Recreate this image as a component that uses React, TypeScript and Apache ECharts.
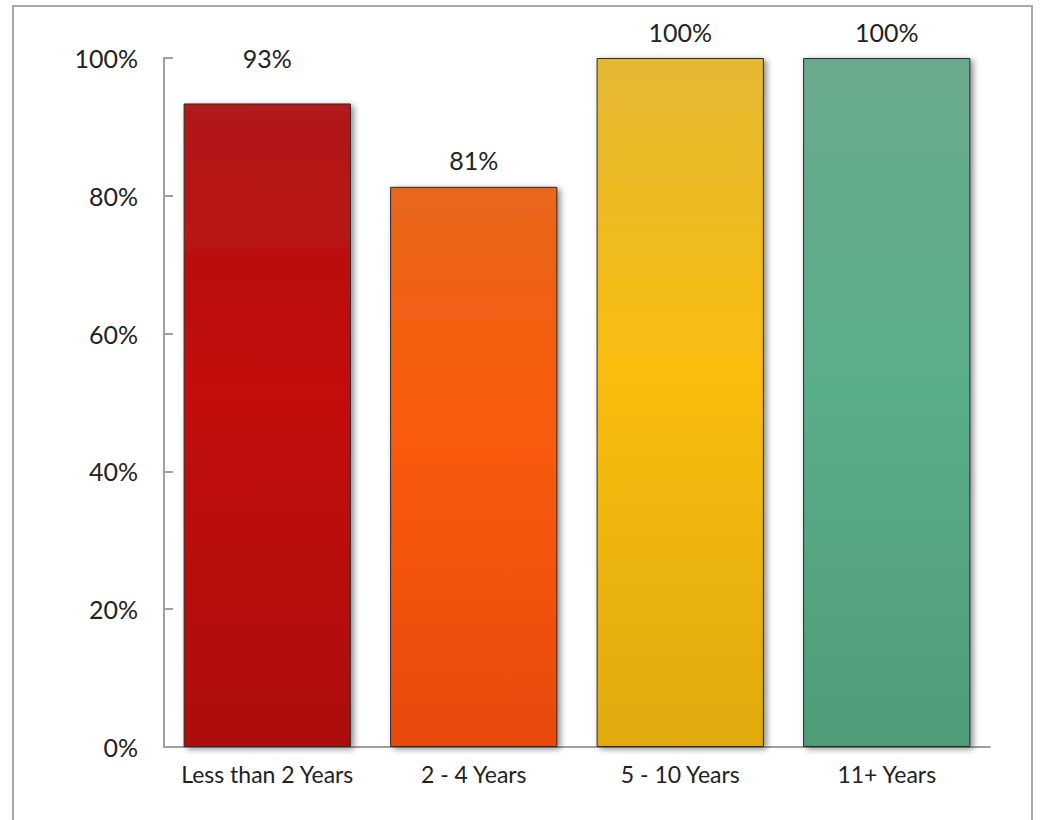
import React, { useEffect, useRef } from "react";
import * as echarts from "echarts";

const categories = ["Less than 2 Years", "2 - 4 Years", "5 - 10 Years", "11+ Years"];
const values = [93.4, 81.3, 100, 100];
const yTicks = [0, 20, 40, 60, 80, 100];
const barColors = [
  ["#b01a1a", "#c40909", "#ad0707"],
  ["#e8661c", "#fa5a08", "#e84a08"],
  ["#e5b832", "#f8bd10", "#e0aa08"],
  ["#6aaa8c", "#5aae8a", "#4e9c78"],
];
const labelDistances = [33, 14, 14, 14];

export default function App() {
  const ref = useRef<HTMLDivElement>(null);
  useEffect(() => {
    if (!ref.current) return;
    const chart = echarts.init(ref.current, null, { renderer: "svg" });
    const font = "Lato, 'DejaVu Sans', sans-serif";
    chart.setOption({
      animation: false,
      backgroundColor: "#ffffff",
      graphic: [
        {
          type: "rect",
          shape: { x: 13, y: 6, width: 1019, height: 840 },
          style: { fill: "none", stroke: "#a8a8a8", lineWidth: 2 },
          silent: true,
        },
      ],
      grid: { left: 164, right: 51, top: 58, bottom: 73, containLabel: false },
      xAxis: {
        type: "category",
        data: categories,
        axisLine: { show: true, lineStyle: { color: "#a0a0a0", width: 2 } },
        axisTick: { show: false },
        axisLabel: { color: "#222", fontFamily: font, fontSize: 23, margin: 15, interval: 0, hideOverlap: false },
      },
      yAxis: {
        type: "value",
        min: yTicks[0],
        max: yTicks[yTicks.length - 1],
        interval: 20,
        splitLine: { show: false },
        axisLine: { show: true, lineStyle: { color: "#a0a0a0", width: 2 } },
        axisTick: { show: true, inside: true, length: 9, lineStyle: { color: "#a0a0a0", width: 2 } },
        axisLabel: {
          color: "#222",
          fontFamily: font,
          fontSize: 25,
          margin: 26,
          formatter: (v: number) => v + "%",
        },
      },
      series: [
        {
          type: "bar",
          barWidth: "81%",
          data: values.map((v, i) => ({
            value: v,
            itemStyle: {
              color: new echarts.graphic.LinearGradient(0, 0, 0, 1, [
                { offset: 0, color: barColors[i][0] },
                { offset: 0.45, color: barColors[i][1] },
                { offset: 1, color: barColors[i][2] },
              ]),
              borderColor: "#2a2a2a",
              borderWidth: 1,
              shadowColor: "rgba(0,0,0,0.45)",
              shadowBlur: 6,
              shadowOffsetX: 3,
              shadowOffsetY: 2,
            },
            label: { distance: labelDistances[i] },
          })),
          label: {
            show: true,
            position: "top",
            color: "#222",
            fontFamily: font,
            fontSize: 25,
            formatter: (p: any) => Math.round(p.value) + "%",
          },
        },
      ],
    });
    return () => chart.dispose();
  }, []);
  return (
    <div
      ref={ref}
      style={{ position: "absolute", left: 0, top: 0, width: 1041, height: 820 }}
    />
  );
}
